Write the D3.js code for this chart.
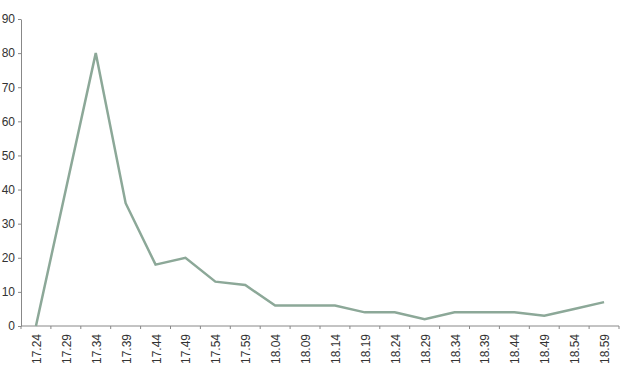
<!DOCTYPE html>
<html>
<head>
<meta charset="utf-8">
<script src="https://cdn.jsdelivr.net/npm/d3@7"></script>
<style>
  body { margin: 0; background: #fff; }
  .axis text { font-family: Arial, "Liberation Sans", sans-serif; font-size: 12px; fill: #333; }
  .axis path, .axis line { stroke: #888; }
</style>
</head>
<body>
<svg id="chart" width="620" height="375"></svg>
<script>
const times = ["17.24", "17.29", "17.34", "17.39", "17.44", "17.49", "17.54", "17.59",
               "18.04", "18.09", "18.14", "18.19", "18.24", "18.29", "18.34", "18.39",
               "18.44", "18.49", "18.54", "18.59"];
const counts = [0, 40, 80, 36, 18, 20, 13, 12, 6, 6, 6, 4, 4, 2, 4, 4, 4, 3, 5, 7];
const yTicks = [0, 10, 20, 30, 40, 50, 60, 70, 80, 90];

const svg = d3.select("#chart");
const plotLeft = 21, plotRight = 619, plotTop = 19, plotBottom = 326;

const x = d3.scaleBand().domain(times).range([plotLeft, plotRight]);
const y = d3.scaleLinear().domain([0, 90]).range([plotBottom, plotTop]);

// y axis
svg.append("g")
    .attr("class", "axis")
    .attr("transform", `translate(${plotLeft},0)`)
    .call(d3.axisLeft(y).tickValues(yTicks).tickSize(3).tickPadding(3).tickSizeOuter(0));

// x axis, ticks sit between categories
const xAxis = svg.append("g")
    .attr("class", "axis")
    .attr("transform", `translate(0,${plotBottom})`);
xAxis.append("line")
    .attr("x1", plotLeft).attr("x2", plotRight)
    .attr("y1", 0).attr("y2", 0);
xAxis.selectAll(".tk")
    .data(times)
    .enter()
    .append("line")
    .attr("class", "tk")
    .attr("x1", d => x(d)).attr("x2", d => x(d))
    .attr("y1", 0).attr("y2", 3);
xAxis.append("line")
    .attr("x1", plotRight).attr("x2", plotRight)
    .attr("y1", 0).attr("y2", 3);
xAxis.selectAll("text")
    .data(times)
    .enter()
    .append("text")
    .attr("transform", d => `translate(${x(d) + x.bandwidth() / 2 + 5},8) rotate(-90)`)
    .attr("text-anchor", "end")
    .text(d => d);

// the line
const line = d3.line()
    .x((d, i) => x(times[i]) + x.bandwidth() / 2)
    .y(d => y(d));

svg.append("path")
    .datum(counts)
    .attr("fill", "none")
    .attr("stroke", "#8ca898")
    .attr("stroke-width", 2.5)
    .attr("stroke-linejoin", "miter")
    .attr("d", line);
</script>
</body>
</html>
